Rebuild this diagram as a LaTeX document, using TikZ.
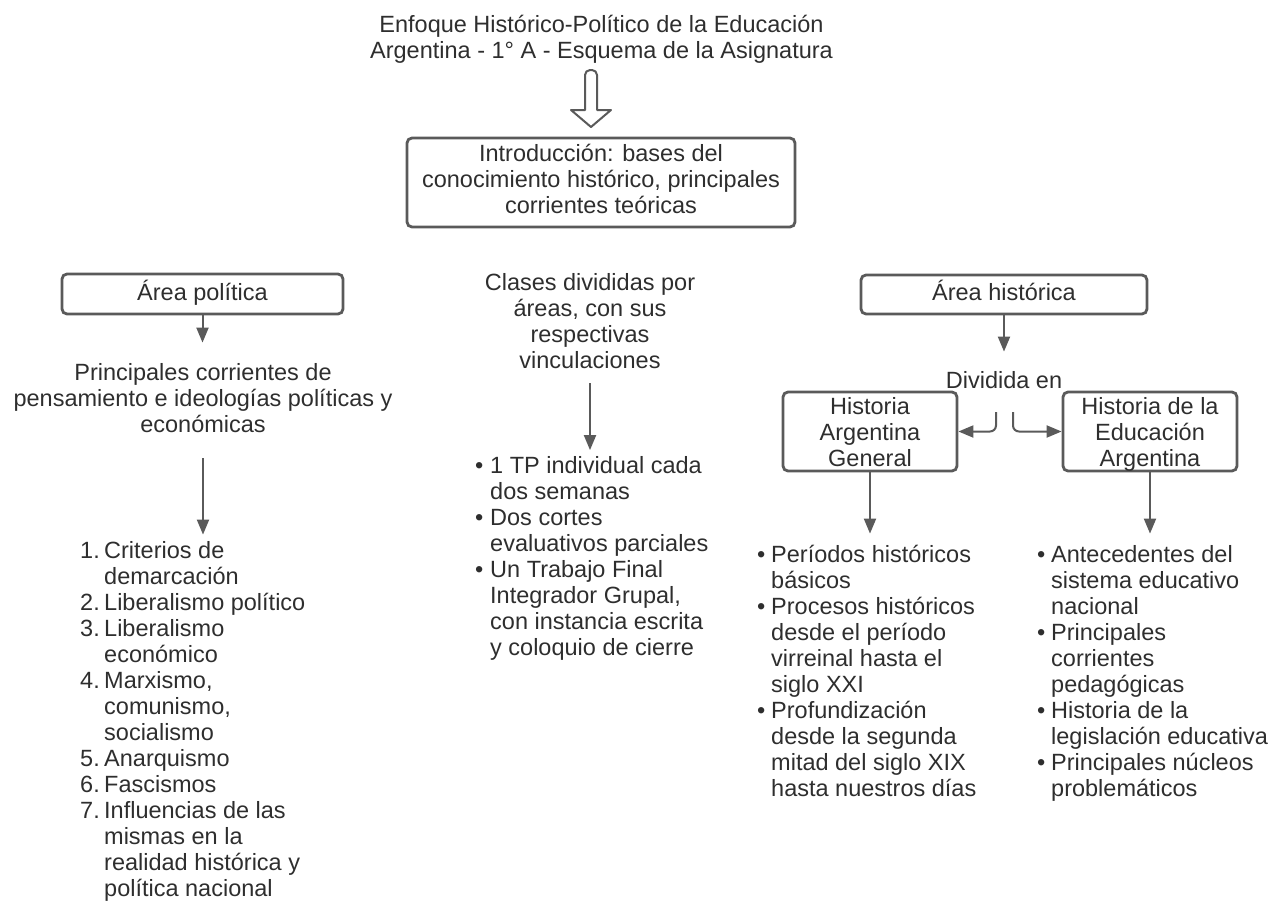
\documentclass[tikz,border=0pt]{standalone}
\usepackage{fontspec}
\setmainfont{Liberation Sans}
\usetikzlibrary{arrows.meta}
\definecolor{txt}{HTML}{2E2E2E}
\definecolor{ln}{HTML}{5A5A5A}
\newcommand{\ctext}[1]{\begin{tabular}[t]{@{}c@{}}#1\end{tabular}}
\newcommand{\cbox}[1]{\begin{tabular}{@{}c@{}}#1\end{tabular}}
\newcommand{\lowbox}[1]{\raisebox{-4pt}[\height][\depth]{\begin{tabular}{@{}c@{}}#1\end{tabular}}}
\newcommand{\ltext}[1]{\begin{tabular}[t]{@{}l@{}}#1\end{tabular}}
\newcommand{\bul}[1]{\makebox[#1][l]{•}}
\newcommand{\numi}[1]{\makebox[24pt][l]{#1}}
\begin{document}
\begin{tikzpicture}[x=1pt,y=-1pt,
  every node/.style={text=txt, font=\fontsize{23.5}{26}\selectfont, inner sep=0pt},
  box/.style={draw=ln, line width=2.8pt, rounded corners=5pt},
  arr/.style={draw=ln, line width=2pt, -{Triangle[length=15pt,width=12pt]}},
  blockarrow/.style={draw=ln, line width=2pt, fill=white, line join=round}]
\useasboundingbox (0,0) rectangle (1272,900);

% title
\node (title) [anchor=base] at (601.5,32) {\ctext{Enfoque Histórico-Político de la Educación\\Argentina - 1° A - Esquema de la Asignatura}};

% introduction box
\node (intro) [box, minimum width=388pt, minimum height=89pt] at (601,182.5)
  {\cbox{Introducción: bases del\\conocimiento histórico, principales\\corrientes teóricas}};

% hollow block arrow
\draw[blockarrow] (585,110) [rounded corners=5pt] -- (585,70) -- (597,70) [sharp corners] -- (597,110) -- (611,110) -- (591,127) -- (571,110) -- cycle;

% left column
\node (pol) [box, minimum width=281pt, minimum height=40pt] at (202.5,294) {\cbox{Área política}};
\node (princ) [anchor=base] at (203,380) {\ctext{Principales corrientes de\\pensamiento e ideologías políticas y\\económicas}};
\node (plist) [anchor=base west] at (80,558) {\ltext{%
\numi{1.}Criterios de\\ \hspace*{24pt}demarcación\\
\numi{2.}Liberalismo político\\
\numi{3.}Liberalismo\\ \hspace*{24pt}económico\\
\numi{4.}Marxismo,\\ \hspace*{24pt}comunismo,\\ \hspace*{24pt}socialismo\\
\numi{5.}Anarquismo\\
\numi{6.}Fascismos\\
\numi{7.}Influencias de las\\ \hspace*{24pt}mismas en la\\ \hspace*{24pt}realidad histórica y\\ \hspace*{24pt}política nacional}};

\draw[arr, shorten >=19pt] (pol.south) -- (pol.south |- princ.north);
\draw[arr, shorten <=18pt, shorten >=5pt] (princ.south) -- (princ.south |- plist.north);

% middle column
\node (clases) [anchor=base] at (590,290) {\ctext{Clases divididas por\\áreas, con sus\\respectivas\\vinculaciones}};
\node (mlist) [anchor=base west] at (475,473.5) {\ltext{%
\bul{15pt}1 TP individual cada\\ \hspace*{15pt}dos semanas\\
\bul{15pt}Dos cortes\\ \hspace*{15pt}evaluativos parciales\\
\bul{15pt}Un Trabajo Final\\ \hspace*{15pt}Integrador Grupal,\\ \hspace*{15pt}con instancia escrita\\ \hspace*{15pt}y coloquio de cierre}};
\draw[arr, shorten <=7pt, shorten >=5pt] (clases.south) -- (clases.south |- mlist.north);

% right column
\node (hist) [box, minimum width=286pt, minimum height=39pt] at (1004,294.5) {\cbox{Área histórica}};
\node (div) [anchor=base] at (1004,388) {\ctext{Dividida en}};
\draw[arr, shorten >=18pt] (hist.south) -- (hist.south |- div.north);

\node (hag) [box, minimum width=174pt, minimum height=79pt] at (870,431.5) {\lowbox{Historia\\Argentina\\General}};
\node (hea) [box, minimum width=174pt, minimum height=79pt] at (1150,431.5) {\lowbox{Historia de la\\Educación\\Argentina}};

\coordinate (e1) at (996,412);
\coordinate (e2) at (1013,412);
\draw[arr, rounded corners=6pt] (e1) |- (hag.east);
\draw[arr, rounded corners=6pt] (e2) |- (hea.west);

\node (hagl) [anchor=base west] at (757,562) {\ltext{%
\bul{14pt}Períodos históricos\\ \hspace*{14pt}básicos\\
\bul{14pt}Procesos históricos\\ \hspace*{14pt}desde el período\\ \hspace*{14pt}virreinal hasta el\\ \hspace*{14pt}siglo XXI\\
\bul{14pt}Profundización\\ \hspace*{14pt}desde la segunda\\ \hspace*{14pt}mitad del siglo XIX\\ \hspace*{14pt}hasta nuestros días}};
\node (heal) [anchor=base west] at (1037,562) {\ltext{%
\bul{14pt}Antecedentes del\\ \hspace*{14pt}sistema educativo\\ \hspace*{14pt}nacional\\
\bul{14pt}Principales\\ \hspace*{14pt}corrientes\\ \hspace*{14pt}pedagógicas\\
\bul{14pt}Historia de la\\ \hspace*{14pt}legislación educativa\\
\bul{14pt}Principales núcleos\\ \hspace*{14pt}problemáticos}};

\draw[arr, shorten >=10pt] (hag.south) -- (hag.south |- hagl.north);
\draw[arr, shorten >=10pt] (hea.south) -- (hea.south |- heal.north);
\end{tikzpicture}
\end{document}
